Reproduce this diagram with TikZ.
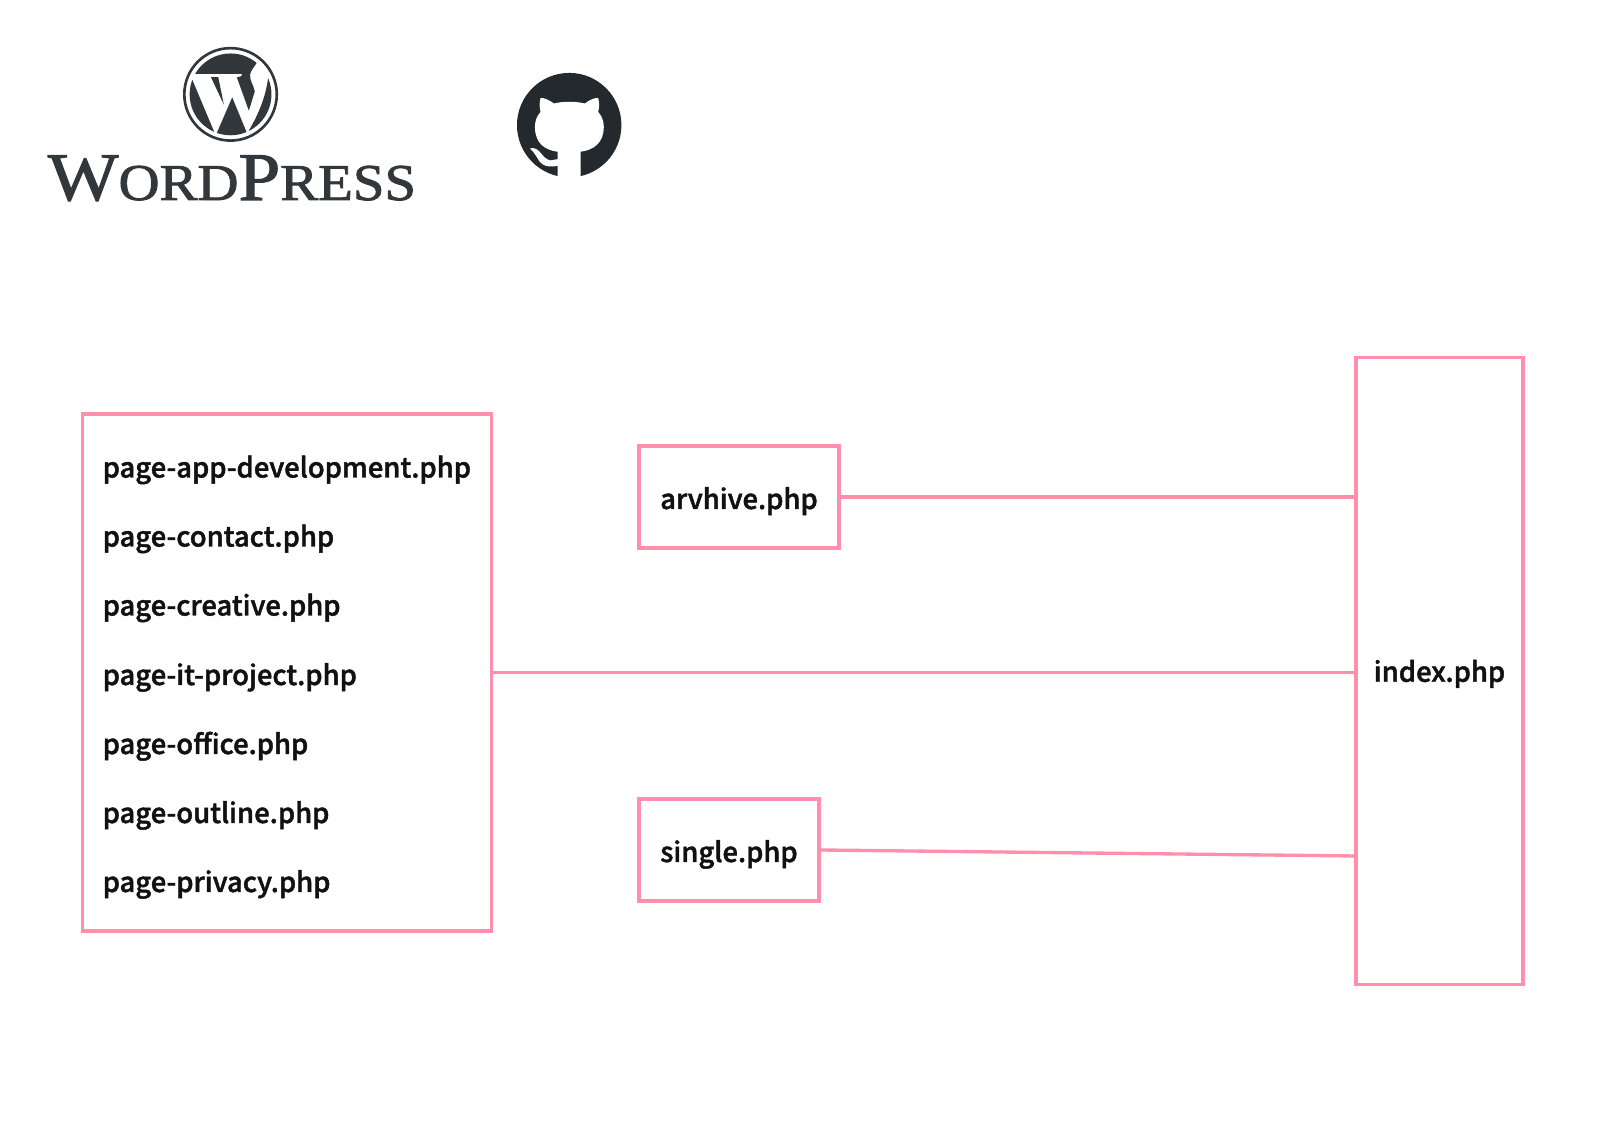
\documentclass[tikz,border=0pt]{standalone}
\usepackage{fontspec}
\setmainfont{Noto Sans CJK JP Medium}[FakeBold=1.6]
\newfontfamily\logofont{Liberation Serif}[FakeBold=1.5]
\definecolor{boxpink}{HTML}{FF8FAB}
\definecolor{wpgray}{HTML}{32373C}
\definecolor{ghdark}{HTML}{24292E}
\definecolor{labelink}{HTML}{111111}
\tikzset{
  pinkbox/.style={draw=boxpink,line width=0.95pt,rectangle,inner sep=0pt,text=labelink,text height=0.30cm,text depth=0.06cm,font=\fontsize{7.8}{10}\selectfont},
  filelabel/.style={anchor=base west,inner sep=0pt,text=labelink,font=\fontsize{7.8}{10}\selectfont},
  pinkline/.style={draw=boxpink,line width=0.95pt}
}
\begin{document}
\begin{tikzpicture}
\useasboundingbox (0,0) rectangle (16.04,11.40);
% logos
\begin{scope}[shift={(1.75,10.985)},x=0.00333cm,y=-0.00333cm]
\draw[wpgray,line width=0.75pt] (167,159) circle (139);
\clip (167,159) circle (123);
\fill[wpgray] (40,97) -- (200,97) -- (200,104) -- (186,108) -- (222,208) -- (240,150) .. controls (236,130) and (224,118) .. (226,100) .. controls (227,88) and (236,80) .. (246,64) -- (246,20) -- (40,20) -- cycle;
\fill[wpgray] (40,115) -- (52,115) -- (118,272) -- (118,300) -- (40,300) -- cycle;
\fill[wpgray] (172,168) -- (215,272) -- (215,300) -- (127,300) -- (127,272) -- cycle;
\fill[wpgray] (108,107) -- (130,107) -- (147,190) -- cycle;
\fill[wpgray] (280,110) .. controls (272,170) and (250,220) .. (222,268) -- (222,300) -- (300,300) -- (300,110) -- cycle;
\end{scope}
\node[anchor=base west,inner sep=0pt,text=wpgray,xscale=1.10,transform shape] (wordmark) at (0.47,9.40) {\logofont\fontsize{19.4}{20}\selectfont W\fontsize{14.7}{20}\selectfont ORD\fontsize{19.4}{20}\selectfont P\fontsize{14.7}{20}\selectfont RESS};
\begin{scope}[shift={(5.10,10.714)},x=0.00333cm,y=-0.00333cm]
\fill[ghdark] (178,170) circle (157);
\fill[white] (143,335) -- (143,250) .. controls (105,245) and (75,225) .. (75,175) .. controls (75,155) and (82,142) .. (92,130) .. controls (88,118) and (88,102) .. (92,88) .. controls (105,88) and (118,95) .. (132,105) .. controls (160,98) and (196,98) .. (225,105) .. controls (238,95) and (252,88) .. (265,88) .. controls (269,102) and (269,118) .. (265,130) .. controls (275,142) and (282,155) .. (282,175) .. controls (282,225) and (250,245) .. (212,250) -- (212,335) -- cycle;
\fill[white] (60,240) .. controls (90,232) and (95,272) .. (122,276) -- (145,272) -- (145,292) .. controls (100,302) and (88,280) .. (80,265) .. controls (75,256) and (68,248) .. (60,240) -- cycle;
\end{scope}
% boxes
\node[pinkbox,minimum width=4.09cm,minimum height=5.17cm] (pages) at (2.87,4.675) {};
\node[pinkbox,minimum width=2.00cm,minimum height=1.02cm] (arvhive) at (7.39,6.43) {arvhive.php};
\node[pinkbox,minimum width=1.80cm,minimum height=1.02cm] (single) at (7.29,2.90) {single.php};
\node[pinkbox,text height=0.275cm,minimum width=1.67cm,minimum height=6.27cm] (index) at (14.395,4.69) {index.php};
% page list
\node[filelabel] (pageapp) at (1.02,6.625) {page-app-development.php};
\node[filelabel] (pagecontact) at (1.02,5.935) {page-contact.php};
\node[filelabel] (pagecreative) at (1.02,5.245) {page-creative.php};
\node[filelabel] (pageit) at (1.02,4.55) {page-it-project.php};
\node[filelabel] (pageoffice) at (1.02,3.86) {page-office.php};
\node[filelabel] (pageoutline) at (1.02,3.17) {page-outline.php};
\node[filelabel] (pageprivacy) at (1.02,2.48) {page-privacy.php};
% connectors
\coordinate (singleend) at (13.56,2.84);
\draw[pinkline] (arvhive.east) -- (arvhive.east -| index.west);
\draw[pinkline] (pages.east) -- (pages.east -| index.west);
\draw[pinkline] (single.east) -- (singleend);
\end{tikzpicture}
\end{document}
